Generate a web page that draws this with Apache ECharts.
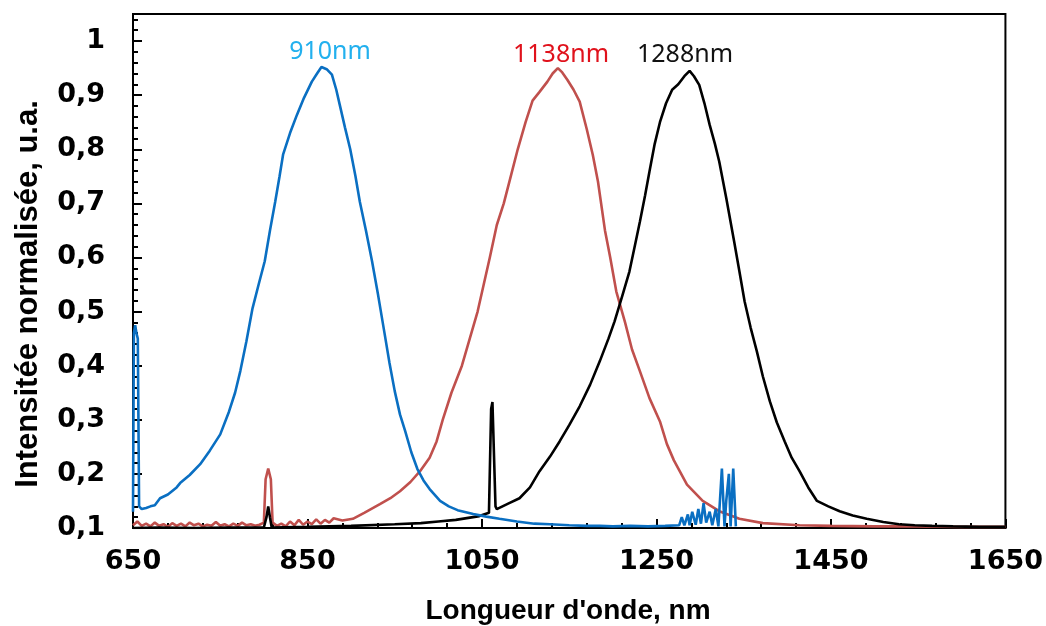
<!DOCTYPE html>
<html>
<head>
<meta charset="utf-8">
<script src="https://cdn.jsdelivr.net/npm/echarts@6/dist/echarts.min.js"></script>
<style>
html,body{margin:0;padding:0;background:#fff;}
#chart{width:1046px;height:626px;}
</style>
</head>
<body>
<div id="chart"></div>
<script>
// ---- Data (wavelength nm, normalized intensity) ----
const xTicks = [650, 850, 1050, 1250, 1450, 1650];
const yTicks = [0.1, 0.2, 0.3, 0.4, 0.5, 0.6, 0.7, 0.8, 0.9, 1];

const blueWl = [650, 651, 652.5, 654, 655.5, 657, 660, 665, 670, 675, 681, 690, 700, 704, 715, 727, 738, 750, 760, 767, 773, 780, 787, 794, 801, 807, 813, 818, 822, 830, 838, 846, 855, 861, 866, 872, 878, 883, 887, 893, 899, 905, 910, 917, 924, 931, 938, 944, 950, 956, 962, 969, 976, 983, 990, 1002, 1012, 1022, 1040, 1055, 1070, 1090, 1110, 1128, 1150, 1170, 1185, 1200, 1220, 1240, 1260, 1276, 1279, 1282, 1286, 1288, 1291, 1295, 1298, 1301, 1304, 1307, 1311, 1314, 1318, 1321, 1325, 1328, 1330, 1333, 1335, 1338, 1341];
const blueInt = [0.13, 0.46, 0.475, 0.46, 0.45, 0.14, 0.135, 0.137, 0.14, 0.142, 0.155, 0.162, 0.175, 0.183, 0.198, 0.218, 0.243, 0.273, 0.315, 0.35, 0.39, 0.445, 0.506, 0.55, 0.593, 0.65, 0.703, 0.75, 0.79, 0.83, 0.864, 0.895, 0.925, 0.94, 0.952, 0.948, 0.938, 0.91, 0.882, 0.84, 0.80, 0.75, 0.703, 0.65, 0.593, 0.53, 0.463, 0.405, 0.353, 0.31, 0.279, 0.24, 0.209, 0.188, 0.172, 0.15, 0.14, 0.133, 0.126, 0.121, 0.117, 0.112, 0.108, 0.107, 0.105, 0.104, 0.104, 0.103, 0.104, 0.103, 0.104, 0.105, 0.12, 0.105, 0.125, 0.105, 0.13, 0.106, 0.135, 0.108, 0.146, 0.11, 0.13, 0.105, 0.135, 0.103, 0.21, 0.103, 0.15, 0.2, 0.103, 0.21, 0.103];

const redWl = [650, 655, 660, 665, 670, 675, 680, 685, 690, 695, 700, 705, 710, 715, 720, 725, 730, 735, 740, 745, 750, 755, 760, 765, 770, 775, 780, 785, 790, 795, 800, 802, 805, 808, 810, 815, 820, 825, 830, 835, 840, 845, 850, 855, 860, 865, 870, 875, 880, 890, 902, 915, 933, 945, 956, 968, 979, 990, 998, 1005, 1015, 1027, 1036, 1045, 1052, 1059, 1067, 1075, 1083, 1091, 1100, 1108, 1116, 1125, 1131, 1137, 1142, 1148, 1155, 1162, 1170, 1177, 1183, 1191, 1197, 1204, 1214, 1222, 1231, 1242, 1254, 1262, 1270, 1285, 1303, 1322, 1345, 1372, 1414, 1450, 1500, 1550, 1600, 1650];
const redInt = [0.105, 0.112, 0.104, 0.108, 0.103, 0.11, 0.104, 0.107, 0.102, 0.109, 0.104, 0.108, 0.103, 0.11, 0.105, 0.108, 0.103, 0.106, 0.104, 0.111, 0.104, 0.107, 0.103, 0.108, 0.104, 0.11, 0.105, 0.107, 0.104, 0.106, 0.11, 0.19, 0.21, 0.19, 0.11, 0.104, 0.108, 0.103, 0.112, 0.105, 0.115, 0.106, 0.112, 0.107, 0.116, 0.108, 0.115, 0.11, 0.118, 0.114, 0.117, 0.128, 0.144, 0.155, 0.168, 0.185, 0.205, 0.23, 0.26, 0.30, 0.35, 0.40, 0.45, 0.50, 0.55, 0.60, 0.66, 0.70, 0.75, 0.80, 0.85, 0.89, 0.906, 0.925, 0.94, 0.95, 0.942, 0.928, 0.91, 0.888, 0.838, 0.79, 0.74, 0.65, 0.60, 0.537, 0.48, 0.43, 0.39, 0.34, 0.297, 0.255, 0.225, 0.18, 0.15, 0.131, 0.117, 0.109, 0.105, 0.104, 0.103, 0.103, 0.102, 0.102];

const blackWl = [650, 680, 720, 760, 800, 803, 805, 807, 809, 850, 900, 950, 980, 1000, 1020, 1047, 1058, 1059.6, 1060.5, 1062, 1064, 1065.5, 1067, 1080, 1093, 1105, 1116, 1128, 1139, 1150, 1162, 1174, 1185, 1195, 1202, 1211, 1219, 1225, 1231, 1237, 1242, 1248, 1254, 1261, 1268, 1275, 1282, 1288, 1293, 1299, 1305, 1311, 1317, 1322, 1330, 1339, 1345, 1351, 1358, 1365, 1372, 1380, 1388, 1397, 1405, 1414, 1424, 1434, 1447, 1460, 1475, 1491, 1510, 1528, 1546, 1566, 1590, 1620, 1650];
const blackInt = [0.1, 0.101, 0.1, 0.101, 0.101, 0.12, 0.14, 0.12, 0.101, 0.102, 0.104, 0.107, 0.109, 0.112, 0.115, 0.122, 0.128, 0.128, 0.32, 0.333, 0.33, 0.14, 0.135, 0.145, 0.155, 0.175, 0.205, 0.232, 0.26, 0.29, 0.325, 0.365, 0.408, 0.45, 0.482, 0.53, 0.574, 0.62, 0.666, 0.715, 0.759, 0.81, 0.85, 0.885, 0.91, 0.92, 0.935, 0.945, 0.935, 0.919, 0.885, 0.845, 0.81, 0.777, 0.71, 0.63, 0.575, 0.519, 0.47, 0.427, 0.38, 0.334, 0.295, 0.26, 0.23, 0.205, 0.175, 0.15, 0.14, 0.131, 0.123, 0.117, 0.111, 0.107, 0.105, 0.104, 0.103, 0.102, 0.102];

const peakLabels = ['910nm', '1138nm', '1288nm'];
const seriesColors = ['#0a6fc2', '#c0504d', '#000000'];
const labelColors = ['#22b0ee', '#e0121c', '#111111'];

function zip(a, b) { return a.map((v, i) => [v, b[i]]); }

const chart = echarts.init(document.getElementById('chart'), null, {renderer: 'canvas'});
const tickFont = {fontFamily: 'DejaVu Sans', fontWeight: 'bold', fontSize: 27, color: '#000'};
const axLine = {show: true, lineStyle: {color: '#000', width: 2}};

chart.setOption({
  animation: false,
  backgroundColor: '#fff',
  grid: {left: 133, right: 40, top: 14, bottom: 98, show: true, borderColor: '#000', borderWidth: 2, backgroundColor: 'transparent'},
  xAxis: [
    {type: 'value', min: xTicks[0], max: xTicks[xTicks.length - 1], interval: 200, position: 'bottom',
     axisLine: axLine, axisTick: {show: true, inside: true, length: 9, lineStyle: {color: '#000', width: 2}},
     axisLabel: Object.assign({margin: 20, formatter: function (v) { return String(Math.round(v)); }}, tickFont),
     splitLine: {show: false}},
    {type: 'value', min: xTicks[0], max: xTicks[xTicks.length - 1], interval: 40, position: 'bottom',
     axisLine: {show: false}, axisTick: {show: true, inside: true, length: 5, lineStyle: {color: '#000', width: 2}},
     axisLabel: {show: false}, splitLine: {show: false}}
  ],
  yAxis: [
    {type: 'value', min: yTicks[0], max: 1.05, interval: 0.1, position: 'left',
     axisLine: axLine, axisTick: {show: true, inside: true, length: 9, lineStyle: {color: '#000', width: 2}},
     axisLabel: Object.assign({margin: 28, formatter: function (v) {
        if (v > 1.001) return '';
        return String(Math.round(v * 10) / 10).replace('.', ',');
     }}, tickFont), splitLine: {show: false}},
    {type: 'value', min: yTicks[0], max: 1.05, interval: 0.02, position: 'left',
     axisLine: {show: false}, axisTick: {show: true, inside: true, length: 5, lineStyle: {color: '#000', width: 2}},
     axisLabel: {show: false}, splitLine: {show: false}}
  ],
  series: [
    {type: 'line', name: 'red', data: zip(redWl, redInt), showSymbol: false, symbol: 'none', lineStyle: {color: seriesColors[1], width: 2.6}, z: 2},
    {type: 'line', name: 'black', data: zip(blackWl, blackInt), showSymbol: false, symbol: 'none', lineStyle: {color: seriesColors[2], width: 2.6}, z: 3},
    {type: 'line', name: 'blue', data: zip(blueWl, blueInt), showSymbol: false, symbol: 'none', lineStyle: {color: seriesColors[0], width: 2.6}, z: 4}
  ],
  graphic: [
    {type: 'text', x: 330, y: 52, style: {text: peakLabels[0], fill: labelColors[0], font: '25px "Noto Sans"', textAlign: 'center', textVerticalAlign: 'middle'}},
    {type: 'text', x: 561, y: 55, style: {text: peakLabels[1], fill: labelColors[1], font: '25px "Noto Sans"', textAlign: 'center', textVerticalAlign: 'middle'}},
    {type: 'text', x: 685, y: 55, style: {text: peakLabels[2], fill: labelColors[2], font: '25px "Noto Sans"', textAlign: 'center', textVerticalAlign: 'middle'}},
    {type: 'text', x: 568, y: 611, style: {text: "Longueur d'onde, nm", fill: '#000', font: 'bold 28px "Liberation Sans"', textAlign: 'center', textVerticalAlign: 'middle'}},
    {type: 'text', x: 28, y: 294, rotation: Math.PI / 2, style: {text: 'Intensitée normalisée, u.a.', fill: '#000', font: 'bold 31px "Liberation Sans"', textAlign: 'center', textVerticalAlign: 'middle'}}
  ]
});
</script>
</body>
</html>
